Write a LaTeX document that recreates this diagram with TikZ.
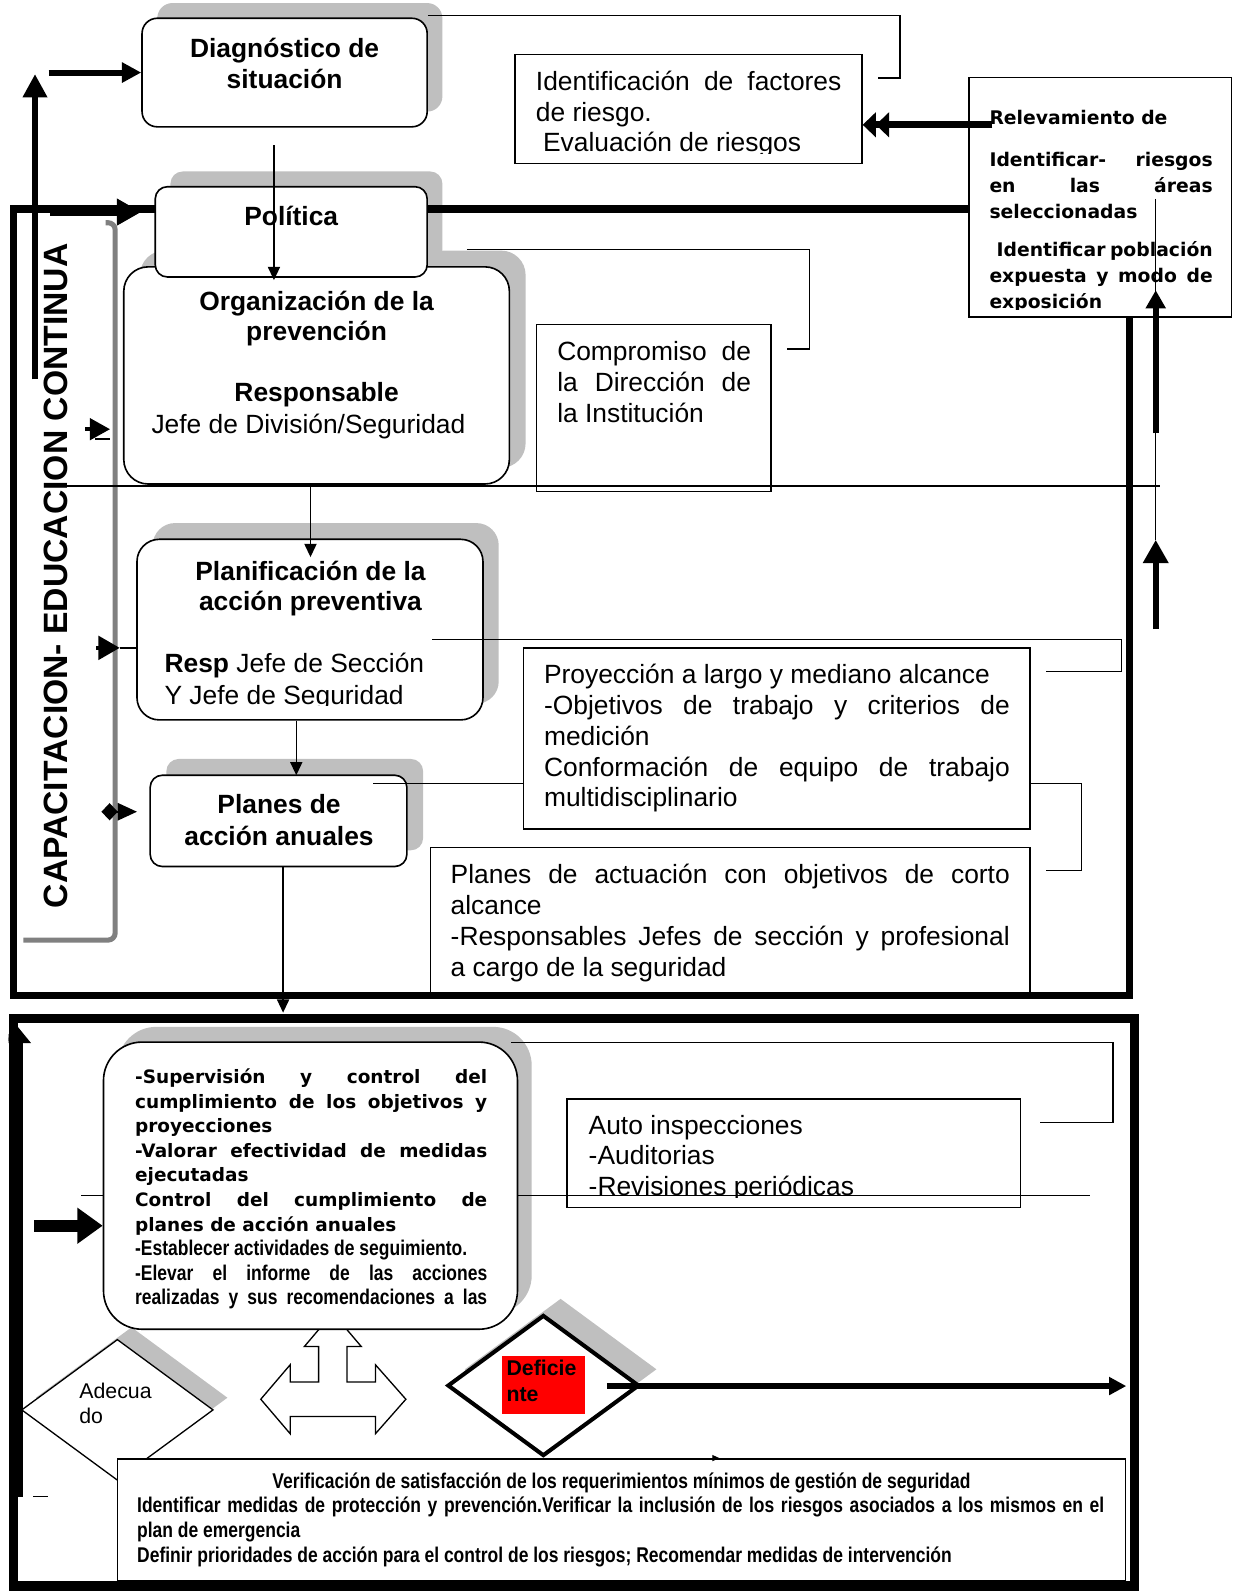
\documentclass[tikz,border=0pt]{standalone}
\usepackage{fontspec}
\setmainfont{Liberation Sans}
\newfontfamily\verdfont{DejaVu Sans}
\newfontfamily\narrowfont[FakeStretch=0.82]{Liberation Sans}
\usetikzlibrary{arrows.meta,shapes.geometric}
\pgfdeclarelayer{shadows}
\pgfdeclarelayer{lines}
\pgfdeclarelayer{over}
\pgfsetlayers{shadows,lines,main,over}

% one justified line of a given width (pt)
\newcommand\jline[2]{\makebox[#1pt][s]{#2}}
\newcommand\szbody{\fontsize{26}{30.3}\selectfont}
\newcommand\szhead{\fontsize{26}{30.5}\selectfont}
\newcommand\szverd{\fontsize{18.2}{24.2}\selectfont}
\newcommand\szrelev{\fontsize{18.5}{25.5}\selectfont}
\newcommand\sznarrow{\fontsize{21}{24.2}\selectfont}
\newcommand\szsmall{\fontsize{21}{25}\selectfont}

% text nodes are anchored at the baseline of their last line
\tikzset{
  shade box/.style={fill=black!25, draw=none, inner sep=0pt},
  round box/.style={draw, line width=1.6pt, fill=white, inner sep=0pt},
  plain box/.style={draw, line width=1.4pt, fill=white, inner sep=0pt},
  txt/.style={inner sep=0pt, align=left, anchor=base west, font=\szbody},
  ctxt/.style={inner sep=0pt, align=center, anchor=base, font=\szhead\bfseries},
  link/.style={line width=1.3pt},
  flow/.style={line width=1.3pt, -{Triangle[length=13pt,width=12pt]}},
}

\begin{document}
\begin{tikzpicture}[x=1pt,y=-1pt]
\useasboundingbox (0,0) rectangle (1215,1568);

% ---------- free ends and bends of connectors ----------
\coordinate (inDiag) at (48,71.5);
\coordinate (upBot) at (34.5,374);
\coordinate (upTop) at (34.5,73);
\coordinate (inPol) at (49,209);
\coordinate (dgStart) at (270,143);
\coordinate (dgEnd) at (270,276);
\coordinate (planIn) at (306,549);
\coordinate (anuIn) at (292,764);
\coordinate (f2In) at (279,998);
\coordinate (dbTop) at (887,15);
\coordinate (dbBot) at (865,77);
\coordinate (polA) at (460,246);
\coordinate (polR) at (798,246);
\coordinate (polEnd) at (776,344);
\coordinate (planA) at (426,630);
\coordinate (planCorner) at (1105,630);
\coordinate (planEnd) at (1031,662);
\coordinate (anuA) at (368,772);
\coordinate (pbTop) at (1066,772);
\coordinate (pbBot) at (1031,858);
\coordinate (supA) at (504,1027.5);
\coordinate (supR) at (1097,1027.5);
\coordinate (supEnd) at (1025,1106);
\coordinate (relA) at (978,123);
\coordinate (vTop) at (1139,196);
\coordinate (vBot) at (1139,532);
\coordinate (ua1) at (1139,620);
\coordinate (ua2) at (1139,427);
\coordinate (ua2tip) at (1139,286);
\coordinate (h1a) at (62,479);
\coordinate (h1b) at (1143,479);
\coordinate (h2a) at (80,1178);
\coordinate (h2b) at (1074,1178);
\coordinate (sa1) at (84,423);
\coordinate (sa1e) at (108.5,423);
\coordinate (ul1) at (93.6,432.6);
\coordinate (ul2) at (108.4,432.6);
\coordinate (sa2) at (95,638.5);
\coordinate (sa2e) at (118,638.5);
\coordinate (sa3) at (100,800);
\coordinate (sa3e) at (135,800);
\coordinate (supIn) at (34,1208);
\coordinate (defOut) at (598,1366);
\coordinate (defTip) at (1110,1366);
\coordinate (f2up1) at (16,1475);
\coordinate (f2up2) at (16,1010);
\coordinate (dashA) at (33,1475);
\coordinate (dashB) at (47,1475);
\coordinate (tinyA) at (695,1437);
\coordinate (tinyB) at (709,1437);
\coordinate (fTL) at (13.5,206);
\coordinate (fBL) at (13.5,981);
\coordinate (fBR) at (1113,981);
\coordinate (f2a) at (13,1004);
\coordinate (f2b) at (1118,1563);
\coordinate (capA) at (104,219.5);
\coordinate (capB) at (113.5,219.5);
\coordinate (capC) at (113.5,926.5);
\coordinate (capD) at (23,926.5);

% ---------- boxes ----------
\node[round box, rounded corners=15pt, minimum width=281pt, minimum height=107pt] (diag) at (280.5,71.5) {};
\node[round box, rounded corners=24pt, minimum width=380pt, minimum height=214pt] (org) at (312,370) {};
\node[round box, rounded corners=12pt, minimum width=268pt, minimum height=89pt] (pol) at (287,228.5) {};
\node[round box, rounded corners=22pt, minimum width=341pt, minimum height=178pt] (plan) at (305.5,620.5) {};
\node[round box, rounded corners=12pt, minimum width=253pt, minimum height=90pt] (anual) at (274.5,809) {};
\node[round box, rounded corners=38pt, minimum width=408pt, minimum height=283pt] (sup) at (306,1168.5) {};
\node[plain box, minimum width=342pt, minimum height=107.5pt] (ident) at (678.5,107.25) {};
\node[plain box, minimum width=258.5pt, minimum height=236pt] (relev) at (1084.25,194.5) {};
\node[plain box, minimum width=231pt, minimum height=164.5pt] (comp) at (644.5,402.25) {};
\node[plain box, minimum width=499pt, minimum height=178.4pt] (proy) at (765.5,727.8) {};
\node[plain box, minimum width=591pt, minimum height=143pt] (pact) at (719.5,906.5) {};
\node[plain box, minimum width=447pt, minimum height=107pt] (auto) at (782.5,1136.5) {};
\node[diamond, draw, line width=1.3pt, fill=white, inner sep=0pt, minimum width=189pt, minimum height=139pt] (adec) at (115.7,1389.5) {};
\node[plain box, minimum width=993pt, minimum height=120pt] (verif) at (612.5,1498) {};
\node[diamond, draw, line width=4pt, fill=white, inner sep=0pt, minimum width=189pt, minimum height=139pt] (defic) at (535.5,1365.5) {};
\node[fill=red, inner sep=0pt, minimum width=82pt, minimum height=58pt] (redbox) at (536,1365) {};

% ---------- texts ----------
\node[ctxt] (diagT) at (280.5,87) {Diagnóstico de\\situación};
\node[ctxt] (polT) at (287,222) {Política};
\node[ctxt, font=\fontsize{26}{29.5}\selectfont\bfseries] (orgT) at (312,335.5) {Organización de la\\prevención};
\node[ctxt] (orgR) at (312,396) {Responsable};
\node[txt, anchor=base] (orgJ) at (304,427) {Jefe de División/Seguridad};
\node[ctxt, font=\fontsize{26}{30}\selectfont\bfseries] (planT) at (306,602) {Planificación de la\\acción preventiva};
\begin{scope}
  \clip (140,630) rectangle (470,695.5);
  \node[txt, font=\fontsize{26}{31}\selectfont] (planResp) at (162,694) {\textbf{Resp} Jefe de Sección\\Y Jefe de Seguridad};
\end{scope}
\node[ctxt, font=\fontsize{26}{31}\selectfont\bfseries] (anualT) at (275,833) {Planes de\\acción anuales};

\begin{scope}
  \clip (510,60) rectangle (848,151);
  \node[txt] (identT) at (528,149.6) {\jline{301}{Identificación de factores}\\de riesgo.\\\hspace*{7pt}Evaluación de riesgos};
\end{scope}
\begin{scope}
  \clip (957,80) rectangle (1212,305);
  \node[txt, font=\verdfont\bfseries\szrelev] (relevT) at (975,304) {Relevamiento de\\[15.5pt]\jline{220}{Identificar- riesgos}\\\jline{220}{en las áreas}\\seleccionadas\\[12.5pt]\hspace*{7pt}\jline{213}{Identificar población}\\\jline{220}{expuesta y modo de}\\exposición};
\end{scope}
\node[txt, font=\fontsize{26}{30.5}\selectfont] (compT) at (549,416) {\jline{191}{Compromiso de}\\\jline{191}{la Dirección de}\\la Institución};
\node[txt] (proyT) at (536,795.2) {Proyección a largo y mediano alcance\\\jline{459}{-Objetivos de trabajo y criterios de}\\medición\\\jline{459}{Conformación de equipo de trabajo}\\multidisciplinario};
\node[txt] (pactT) at (444,961.9) {\jline{551}{Planes de actuación con objetivos de corto}\\alcance\\\jline{551}{-Responsables Jefes de sección y profesional}\\a cargo de la seguridad};
\begin{scope}
  \clip (565,1090) rectangle (1000,1180);
  \node[txt, font=\fontsize{26}{30}\selectfont] (autoT) at (580,1178) {Auto inspecciones\\-Auditorias\\-Revisiones periódicas};
\end{scope}
\node[txt, font=\verdfont\bfseries\szverd] (supT) at (133,1285.8) {\jline{347}{-Supervisión y control del}\\\jline{347}{cumplimiento de los objetivos y}\\proyecciones\\\jline{347}{-Valorar efectividad de medidas}\\ejecutadas\\\jline{347}{Control del cumplimiento de}\\planes de acción anuales\\{\narrowfont\bfseries\sznarrow -Establecer actividades de seguimiento.}\\{\narrowfont\bfseries\sznarrow\jline{347}{-Elevar el informe de las acciones}}\\{\narrowfont\bfseries\sznarrow\jline{347}{realizadas y sus recomendaciones a las}}};
\node[ctxt, font=\narrowfont\bfseries\sznarrow] (verifT) at (612.5,1467) {Verificación de satisfacción de los requerimientos mínimos de gestión de seguridad};
\node[txt, font=\narrowfont\bfseries\sznarrow] (verifB) at (135,1539.4) {\jline{953}{Identificar medidas de protección y prevención.Verificar la inclusión de los riesgos asociados a los mismos en el}\\plan de emergencia\\Definir prioridades de acción para el control de los riesgos; Recomendar medidas de intervención};
\node[txt, font=\szsmall] (adecT) at (78,1403) {Adecua\\do};
\node[txt, font=\szsmall\bfseries] (defT) at (499,1381) {Deficie\\nte};
\node[rotate=90, anchor=base, inner sep=0pt, font=\fontsize{33.2}{36}\selectfont\bfseries] (cap) at (66.5,567.5) {CAPACITACION- EDUCACION CONTINUA};

% ---------- shadows ----------
\begin{pgfonlayer}{shadows}
\node[shade box, rounded corners=15pt, minimum width=281pt, minimum height=107pt] (diagS) at (295.5,56.5) {};
\node[shade box, rounded corners=12pt, minimum width=268pt, minimum height=89pt] (polS) at (302,213.5) {};
\node[shade box, rounded corners=24pt, minimum width=380pt, minimum height=214pt] (orgS) at (328,354) {};
\node[shade box, rounded corners=22pt, minimum width=341pt, minimum height=178pt] (planS) at (321,604.5) {};
\node[shade box, rounded corners=12pt, minimum width=253pt, minimum height=90pt] (anualS) at (290.5,793) {};
\node[shade box, rounded corners=38pt, minimum width=408pt, minimum height=283pt] (supS) at (320,1153.5) {};
\node[shade box, diamond, minimum width=189pt, minimum height=139pt] (adecS) at (129.7,1377.5) {};
\node[shade box, diamond, minimum width=189pt, minimum height=139pt] (deficS) at (552.5,1349.5) {};
\draw[black!50, line width=5pt, rounded corners=7pt] (capA) -- (capB) -- (capC) -- (capD);
\end{pgfonlayer}

% ---------- frames and the three-way block arrow ----------
\begin{pgfonlayer}{lines}
\draw[line width=7pt] (fTL -| relev.west) -- (fTL) -- (fBL) -- (fBR) -- (fBR |- relev.south);
\draw[line width=9pt] (f2a) rectangle (f2b);
\draw[line width=1.3pt, fill=white] (257,1379) -- (286,1345) -- (286,1362) -- (314,1362) -- (314,1327)
  -- (300,1327) -- (328,1294) -- (356,1327) -- (342,1327) -- (342,1362) -- (370,1362) -- (370,1345)
  -- (400,1379) -- (370,1413) -- (370,1396) -- (286,1396) -- (286,1413) -- cycle;
\end{pgfonlayer}

% ---------- connectors ----------
\begin{pgfonlayer}{over}
\draw[line width=6pt, -{Triangle[length=19pt,width=19pt]}] (inDiag) -- (diag.west);
\draw[line width=6.5pt, -{Triangle[length=23pt,width=23pt]}] (upBot) -- (upTop);
\draw[line width=8pt, -{Triangle[length=24pt,width=25pt]}, shorten >=13pt] (inPol) -- (inPol -| pol.west);
\draw[flow] (dgStart) -- (dgEnd);
\draw[flow] (org.south -| planIn) -- (planIn);
\draw[flow] (plan.south -| anuIn) -- (anuIn);
\draw[flow] (anual.south -| f2In) -- (f2In);

\draw[link] (dbTop -| diag.east) -- (dbTop) |- (dbBot);
\draw[link] (polA) -- (polR) |- (polEnd);
\draw[link] (planA) -- (planCorner) |- (planEnd);
\draw[link] (anuA) -- (anuA -| proy.west);
\draw[link] (pbTop -| proy.east) -- (pbTop) |- (pbBot);
\draw[link] (supA) -- (supR) |- (supEnd);

\draw[line width=7pt, -{Triangle[length=13pt,width=24pt]Triangle[length=13pt,width=24pt]}] (relA) -- (relA -| ident.east);
\draw[link] (vTop) -- (vBot);
\draw[line width=6pt, -{Triangle[length=23pt,width=24pt]}] (ua1) -- (vBot);
\draw[line width=6pt, -{Triangle[length=18pt,width=19pt]}] (ua2) -- (ua2tip);

\draw[link] (h1a) -- (h1b);
\draw[link] (h2a) -- (h2a -| sup.west);
\draw[link] (sup.east |- h2a) -- (h2b);

\draw[line width=4pt, -{Triangle[length=20pt,width=21pt]}] (sa1) -- (sa1e);
\draw[line width=1.2pt] (ul1) -- (ul2);
\draw[line width=4pt, -{Triangle[length=21pt,width=23pt]}] (sa2) -- (sa2e);
\draw[link] (sa2e) -- (sa2e -| plan.west);
\draw[line width=2pt, {Diamond[length=16pt,width=17pt]}-{Triangle[length=19pt,width=17pt]}] (sa3) -- (sa3e);

\draw[line width=12pt, -{Triangle[length=25pt,width=34pt]}] (supIn) -- (supIn -| sup.west);
\draw[line width=5.5pt, -{Triangle[length=17pt,width=17pt]}] (defOut) -- (defTip);
\begin{scope}
  \clip (8.5,995) rectangle (60,1500);
  \draw[line width=13pt, -{Triangle[length=18pt,width=28pt]}] (f2up1) -- (f2up2);
\end{scope}
\draw[line width=1.2pt] (dashA) -- (dashB);
\draw[line width=1pt, -{Triangle[length=7pt,width=6pt]}] (tinyA) -- (tinyB);
\end{pgfonlayer}
\end{tikzpicture}
\end{document}
